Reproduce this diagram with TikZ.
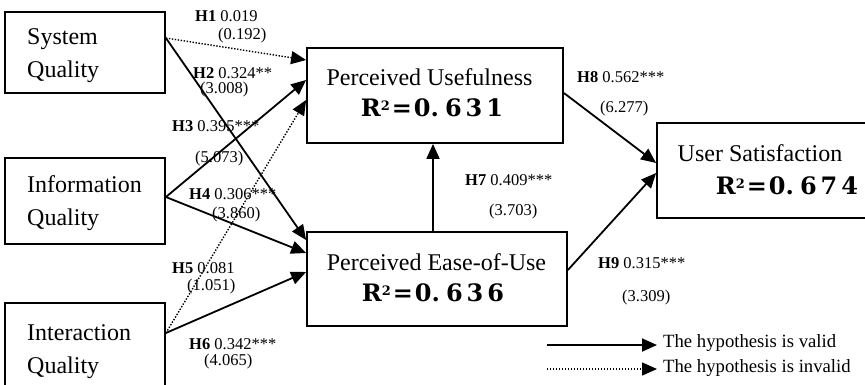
\documentclass[tikz,border=0pt]{standalone}
\usepackage{fontspec}
\setmainfont{Liberation Serif}
\newfontfamily\rsqfont{DejaVu Serif}
\usetikzlibrary{arrows.meta}
% coefficient of determination, set in a heavy slab face with open digits
\newcommand{\rsq}[3]{{\rsqfont\bfseries R\raisebox{0.5ex}{\fontsize{13}{13}\selectfont 2}\hspace{2pt}=\hspace{2pt}0.\hspace{6pt}#1\hspace{4pt}#2\hspace{4pt}#3}}
\begin{document}
\begin{tikzpicture}[x=1pt,y=-1pt,
  box/.style={draw, line width=1.8pt, inner sep=0pt},
  boxtext/.style={font=\fontsize{24}{33}\selectfont, align=left, inner sep=0pt, anchor=west},
  cname/.style={font=\fontsize{24}{28}\selectfont, inner sep=0pt},
  rval/.style={font=\fontsize{24}{28}\selectfont, inner sep=0pt},
  lab/.style={font=\fontsize{16.5}{18}\selectfont, inner sep=0pt, anchor=west},
  legtext/.style={font=\fontsize{18.7}{20}\selectfont, inner sep=0pt, anchor=west},
  tip/.style={-{Triangle[length=15pt,width=13pt]}},
  valid/.style={tip, line width=1.8pt},
  invalid/.style={tip, line width=1.4pt, dash pattern=on 1.4pt off 1.6pt},
]
\useasboundingbox (0,0) rectangle (865,384);

% exogenous constructs
\node[box, minimum width=160pt, minimum height=81pt] (sq)  at (85,52.5) {};
\node[box, minimum width=160pt, minimum height=86pt] (iq)  at (85,201) {};
\node[box, minimum width=160pt, minimum height=84pt] (iaq) at (85,345) {};
\node[boxtext] (sqt)  at (27,56)    {System\\Quality};
\node[boxtext] (iqt)  at (27,203.5) {Information\\Quality};
\node[boxtext] (iaqt) at (27,351.5) {Interaction\\Quality};

% endogenous constructs
\node[box, minimum width=256pt, minimum height=95pt] (pu)  at (435,95.5) {};
\node[box, minimum width=260pt, minimum height=94pt] (peu) at (437,279) {};
\node[box, minimum width=211pt, minimum height=95pt] (us)  at (762.5,170.5) {};
\node[cname] (put)  at (429.5,77) {Perceived Usefulness};
\node[rval]  (pur)  at (432,108)  {\rsq{6}{3}{1}};
\node[cname] (peut) at (436.5,262) {Perceived Ease-of-Use};
\node[rval]  (peur) at (433,293)  {\rsq{6}{3}{6}};
\node[cname] (ust)  at (760,153)  {User Satisfaction};
\node[rval]  (usr)  at (787,186)  {\rsq{6}{7}{4}};

% structural paths
\draw[invalid] ([yshift=14.5pt]sq.east)  -- ([yshift=35.5pt]pu.west);
\draw[valid]   ([yshift=14.5pt]sq.east)  -- ([yshift=39pt]peu.west);
\draw[valid]   ([yshift=4pt]iq.east)     -- ([yshift=15.5pt]pu.west);
\draw[valid]   ([yshift=4pt]iq.east)     -- ([yshift=26pt]peu.west);
\draw[invalid] ([yshift=12pt]iaq.east)   -- ([yshift=-4.5pt]pu.west);
\draw[valid]   ([yshift=12pt]iaq.east)   -- ([yshift=7pt]peu.west);
\draw[valid]   ([xshift=-4pt]peu.north)  -- ([xshift=-2pt]pu.south);
\draw[valid]   ([yshift=2.5pt]pu.east)   -- ([yshift=7.5pt]us.west);
\draw[valid]   ([yshift=9pt]peu.east)    -- ([yshift=-2.5pt]us.west);

% path coefficients and t-values
\node[lab] (h1)  at (195,16)  {\textbf{H1} 0.019};
\node[lab] (t1)  at (218,36)  {(0.192)};
\node[lab] (h2)  at (193,73)  {\textbf{H2} 0.324**};
\node[lab] (t2)  at (200,90)  {(3.008)};
\node[lab] (h3)  at (172,126) {\textbf{H3} 0.395***};
\node[lab] (t3)  at (195,159) {(5.073)};
\node[lab] (h4)  at (189,194) {\textbf{H4} 0.306***};
\node[lab] (t4)  at (212,215) {(3.860)};
\node[lab] (h5)  at (172,268) {\textbf{H5} 0.081};
\node[lab] (t5)  at (187,287) {(1.051)};
\node[lab] (h6)  at (189,344) {\textbf{H6} 0.342***};
\node[lab] (t6)  at (204,362) {(4.065)};
\node[lab] (h7)  at (465,180) {\textbf{H7} 0.409***};
\node[lab] (t7)  at (489,212) {(3.703)};
\node[lab] (h8)  at (577,77)  {\textbf{H8} 0.562***};
\node[lab] (t8)  at (600,109) {(6.277)};
\node[lab] (h9)  at (598,263) {\textbf{H9} 0.315***};
\node[lab] (t9)  at (622,298) {(3.309)};

% legend
\coordinate (lv1) at (547,345);
\coordinate (lv2) at (657,345);
\coordinate (li1) at (547,369);
\coordinate (li2) at (657,369);
\draw[valid]   (lv1) -- (lv2);
\draw[invalid] (li1) -- (li2);
\node[legtext] (lvt) at (663,343) {The hypothesis is valid};
\node[legtext] (lit) at (663,368) {The hypothesis is invalid};
\end{tikzpicture}
\end{document}
